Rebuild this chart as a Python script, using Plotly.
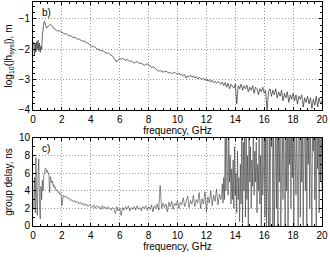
import numpy as np
import plotly.graph_objects as go
from plotly.subplots import make_subplots

# ---------------- data: top panel (log10 |h_sys|) ----------------
freq_top_lo = np.round(np.arange(0.05, 1.001, 0.05), 2)
freq_top_hi = np.round(np.arange(1.1, 20.001, 0.1), 2)
logh_lo = [-1.75, -2.2, -1.8, -2.1, -1.75, -2.0, -1.7, -2.05, -1.8, -2.1,
           -1.9, -2.0, -1.55, -1.3, -1.12, -1.08, -1.15, -1.25, -1.3, -1.27]
logh_hi = [
    -1.2, -1.17, -1.22, -1.3, -1.33, -1.36, -1.4, -1.38, -1.42, -1.45,
    -1.47, -1.5, -1.48, -1.53, -1.56, -1.55, -1.58, -1.62, -1.6, -1.65,
    -1.67, -1.66, -1.7, -1.73, -1.72, -1.76, -1.78, -1.8, -1.84, -1.9,
    -1.92, -1.9, -1.95, -1.97, -2.0, -2.02, -2.05, -2.04, -2.08, -2.1,
    -2.13, -2.12, -2.17, -2.2, -2.22, -2.3, -2.38, -2.42, -2.35, -2.3,
    -2.33, -2.3, -2.32, -2.37, -2.34, -2.35, -2.4, -2.38, -2.42, -2.45,
    -2.43, -2.4, -2.44, -2.48, -2.46, -2.5, -2.53, -2.5, -2.48, -2.5,
    -2.55, -2.6, -2.58, -2.6, -2.65, -2.7, -2.72, -2.7, -2.73, -2.75,
    -2.74, -2.72, -2.75, -2.78, -2.76, -2.8, -2.78, -2.75, -2.8, -2.82,
    -2.78, -2.85, -2.82, -2.88, -2.84, -2.95, -2.88, -2.9, -2.86, -2.92,
    -2.88, -2.95, -2.9, -2.98, -2.92, -2.96, -3.0, -2.95, -3.02, -2.98,
    -3.05, -3.0, -3.08, -3.02, -3.1, -3.05, -3.12, -3.06, -3.1, -3.15,
    -3.08, -3.2, -3.1, -3.25, -3.12, -3.3, -3.15, -3.22, -3.28, -3.15,
    -3.8, -3.2, -3.3, -3.15, -3.35, -3.2, -3.3, -3.18, -3.4, -3.25,
    -3.35, -3.2, -3.45, -3.25, -3.3, -3.5, -3.3, -3.4, -3.25, -3.45,
    -3.35, -4.0, -3.4, -3.3, -3.55, -3.35, -3.5, -3.3, -3.6, -3.4,
    -3.55, -3.35, -3.7, -3.45, -3.6, -3.4, -3.75, -3.5, -3.65, -3.45,
    -3.7, -3.5, -3.8, -3.55, -3.65, -3.5, -3.9, -3.6, -3.75, -3.55,
    -3.8, -3.6, -3.95, -3.65, -3.85, -3.55, -3.9, -3.6, -3.8, -3.7]

# ---------------- data: bottom panel (group delay, ns) ----------------
freq_gd_a = np.round(np.arange(0.05, 2.001, 0.05), 2)
freq_gd_b = np.round(np.arange(2.1, 13.001, 0.1), 2)
freq_gd_c = np.round(np.arange(13.05, 20.001, 0.05), 2)
gd_a = [2.0, 5.5, 1.5, 7.8, 3.0, 1.2, 6.0, 7.6, 2.5, 0.8,
        4.5, 3.0, 5.2, 4.0, 5.8, 6.0, 6.6, 6.5, 6.1, 6.3,
        5.9, 6.0, 3.8, 5.6, 5.3, 4.9, 5.1, 4.5, 4.7, 4.3,
        4.4, 4.0, 4.1, 3.9, 3.8, 3.9, 3.6, 3.7, 3.5, 2.3]
gd_b = [3.5, 3.3, 3.4, 3.1, 3.2, 2.9, 3.0, 2.7, 2.9, 2.6,
        2.8, 2.5, 2.7, 2.4, 2.6, 2.3, 2.5, 2.2, 2.4, 2.3,
        2.1, 2.4, 2.0, 2.3, 2.1, 2.2, 1.9, 2.3, 2.0, 2.2,
        1.9, 2.2, 2.0, 1.8, 2.1, 1.9, 1.4, 2.2, 1.7, 2.0,
        1.2, 2.1, 1.8, 2.2, 1.9, 2.3, 1.7, 2.1, 1.9, 2.2,
        1.8, 2.3, 1.9, 2.1, 1.7, 2.2, 2.0, 2.3, 1.8, 2.2,
        1.9, 2.4, 1.6, 2.3, 2.0, 2.5, 1.8, 4.6, 2.0, 2.6,
        2.1, 2.5, 1.6, 2.7, 2.2, 2.8, 1.9, 2.6, 2.3, 2.9,
        2.0, 2.7, 2.4, 3.2, 2.2, 2.8, 3.4, 2.1, 2.9, 2.5,
        3.5, 2.2, 3.0, 2.6, 3.8, 2.0, 3.1, 2.5, 3.9, 1.6,
        3.3, 2.6, 4.0, 2.3, 3.5, 2.8, 4.2, 2.4, 3.6, 3.0]
gd_c = [3.5, 4.8, 2.6, 5.5, 3.0, 11, 4.0, 12, 6.5, 3.5, 11, 5.0, 8.0, 2.5, 6.5, 3.0, 7.5, 2.0, 9.0, 3.5,
        6.0, 1.5, 8.5, 3.0, 5.5, 0.5, 7.0, 2.5, 12, 0.3, 9.5, 4.0, 12, 1.0, 11, 3.0, 8.0, 0.0, 12, 5.0,
        9.0, 2.0, 7.5, 4.5, 12, 3.5, 8.5, 5.0, 9.5, 1.5, 7.0, 4.0, 12, 2.5, 8.0, 0.0, 11, 3.5, 6.0, 12,
        1.0, 10, 0.0, 12, 4.0, 0.0, 12, -0.5, 12, 9.0, 12, 0.0, 12, -0.5, 8.0, 12, 2.0, 12, 0.0, 12,
        5.0, 12, 0.0, 9.0, 12, 3.0, 12, 6.5, -0.5, 12, 4.0, 12, 0.0, 11, 7.0, 12, 2.0, 12, 5.5, 12,
        0.0, 12, 8.0, 3.5, 12, 6.0, -0.5, 12, 9.0, 1.0, 12, 5.0, 12, 0.0, 10, 12, 4.0, 12, 0.0, 12,
        7.0, 12, 2.0, 12, 6.0, -0.5, 12, 8.5, 12, 3.0, 12, 0.0, 11, 6.5, 12, 1.5, 12, 5.0, 12, 4.0]

freq_top = np.concatenate([freq_top_lo, freq_top_hi])
logh = logh_lo + logh_hi
freq_gd = np.concatenate([freq_gd_a, freq_gd_b, freq_gd_c])
gd = gd_a + gd_b + gd_c
n1 = min(len(freq_top), len(logh))
n2 = min(len(freq_gd), len(gd))

FONT = "Liberation Sans, Arial, Helvetica, sans-serif"

fig = make_subplots(rows=2, cols=1, vertical_spacing=0.0)
fig.add_trace(go.Scatter(x=freq_top[:n1], y=logh[:n1], mode="lines",
                         line=dict(color="#2a2a2a", width=0.7), showlegend=False),
              row=1, col=1)
fig.add_trace(go.Scatter(x=freq_gd[:n2], y=gd[:n2], mode="lines",
                         line=dict(color="#2a2a2a", width=0.55), showlegend=False),
              row=2, col=1)

axcommon = dict(showline=True, linecolor="black", linewidth=1, mirror="allticks",
                ticks="inside", ticklen=3, tickcolor="black", automargin=False,
                showgrid=True, gridcolor="#999999", griddash="1px,2px", gridwidth=1,
                zeroline=False, tickfont=dict(size=10, color="black", family=FONT))

fig.update_xaxes(**axcommon, range=[0, 20], dtick=2, tick0=0, ticklabeloverflow="allow",
                 minor=dict(ticks="inside", dtick=0.5, ticklen=2, tickcolor="black", showgrid=False),
                 title=dict(text="frequency, GHz", font=dict(size=10, family=FONT, color="black"),
                            standoff=0))
fig.update_yaxes(**axcommon)

fig.update_layout(
    xaxis=dict(domain=[0, 1], anchor="y"),
    yaxis=dict(domain=[0.518, 1.0], range=[-4, -0.44], dtick=1, tick0=0,
               minor=dict(ticks="inside", dtick=0.2, ticklen=2, tickcolor="black", showgrid=False),
               title=dict(text="log<sub>10</sub>(|h<sub>sys</sub>|), m",
                          font=dict(size=10, family=FONT, color="black"), standoff=4)),
    xaxis2=dict(domain=[0, 1], anchor="y2"),
    yaxis2=dict(domain=[0.0, 0.393], range=[0, 10], dtick=2, tick0=0,
                minor=dict(ticks="inside", dtick=1, ticklen=2, tickcolor="black", showgrid=False),
                title=dict(text="group delay, ns",
                           font=dict(size=10, family=FONT, color="black"), standoff=4)),
    width=330, height=257,
    margin=dict(l=33, r=8, t=2, b=31, autoexpand=False),
    paper_bgcolor="white", plot_bgcolor="white",
    font=dict(family=FONT, size=10, color="black"),
    annotations=[
        dict(text="b)", xref="x domain", yref="y domain", x=0.025, y=0.97,
             xanchor="left", yanchor="top", showarrow=False,
             font=dict(size=10, family=FONT, color="black")),
        dict(text="c)", xref="x2 domain", yref="y2 domain", x=0.025, y=0.96,
             xanchor="left", yanchor="top", showarrow=False,
             font=dict(size=10, family=FONT, color="black")),
    ],
)

fig.write_html("out.html", config={"displayModeBar": False},
               post_script="document.body.style.margin='0';document.body.style.padding='0';"
                           "document.documentElement.style.overflow='hidden';")
